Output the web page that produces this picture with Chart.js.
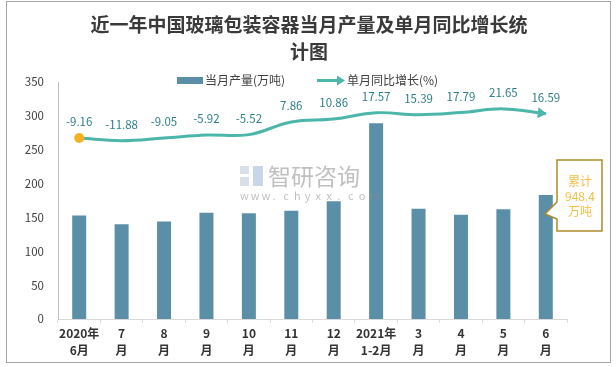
<!DOCTYPE html>
<html>
<head>
<meta charset="utf-8">
<script src="https://cdn.jsdelivr.net/npm/chart.js@4"></script>
<style>
  html, body { margin: 0; padding: 0; background: #fff; }
  #wrap { width: 616px; height: 367px; }
</style>
</head>
<body>
<div id="wrap"><canvas id="chart" width="616" height="367"></canvas></div>
<script>
// Daten
const titleLines = ['近一年中国玻璃包装容器当月产量及单月同比增长统', '计图'];
const months = [['2020年', '6月'], ['7', '月'], ['8', '月'], ['9', '月'], ['10', '月'], ['11', '月'],
  ['12', '月'], ['2021年', '1-2月'], ['3', '月'], ['4', '月'], ['5', '月'], ['6', '月']];
const production = [153, 140, 144, 157, 156, 160, 174, 289, 163, 154, 162, 183];
const growth = [-9.16, -11.88, -9.05, -5.92, -5.52, 7.86, 10.86, 17.57, 15.39, 17.79, 21.65, 16.59];
const seriesNames = ['当月产量(万吨)', '单月同比增长(%)'];
const calloutLines = ['累计', '948.4', '万吨'];
const yTicks = [0, 50, 100, 150, 200, 250, 300, 350];

const BAR_COLOR = '#5B8FA8';
const LINE_COLOR = '#4DB6AB';
const FONT = '"Noto Sans CJK SC", "Microsoft YaHei", sans-serif';

function arrowHead(ctx, x, y, angle, len, half, color) {
  ctx.save();
  ctx.translate(x, y);
  ctx.rotate(angle);
  ctx.fillStyle = color;
  ctx.beginPath();
  ctx.moveTo(0, 0);
  ctx.lineTo(-len, -half);
  ctx.lineTo(-len, half);
  ctx.closePath();
  ctx.fill();
  ctx.restore();
}

// Rahmen, Titel, Legende
const decorPlugin = {
  id: 'decor',
  beforeDraw(chart) {
    const ctx = chart.ctx;
    ctx.save();
    ctx.fillStyle = '#fff';
    ctx.fillRect(0, 0, chart.width, chart.height);
    ctx.strokeStyle = '#A6A6A6';
    ctx.lineWidth = 1;
    ctx.strokeRect(6.5, 1.5, 604, 361);

    ctx.fillStyle = '#3a3a3a';
    ctx.font = 'bold 19px ' + FONT;
    ctx.textAlign = 'center';
    ctx.textBaseline = 'middle';
    ctx.fillText(titleLines[0], 309, 25);
    ctx.fillText(titleLines[1], 309, 52);

    // Legende
    ctx.font = '12px ' + FONT;
    ctx.textAlign = 'left';
    ctx.fillStyle = BAR_COLOR;
    ctx.fillRect(177, 77, 26, 7);
    ctx.fillStyle = '#404040';
    ctx.fillText(seriesNames[0], 205, 80.5);
    ctx.strokeStyle = LINE_COLOR;
    ctx.lineWidth = 3;
    ctx.beginPath();
    ctx.moveTo(317, 80.5);
    ctx.lineTo(338, 80.5);
    ctx.stroke();
    arrowHead(ctx, 345, 80.5, 0, 8, 5, LINE_COLOR);
    ctx.fillStyle = '#404040';
    ctx.fillText(seriesNames[1], 347, 80.5);
    ctx.restore();
  },
  afterDatasetsDraw(chart) {
    const ctx = chart.ctx;
    const meta = chart.getDatasetMeta(1);
    const pts = meta.data;
    ctx.save();
    // Pfeilspitze am Linienende
    const last = pts[pts.length - 1];
    const prev = pts[pts.length - 2];
    const cp = last.cp1x !== undefined ? { x: last.cp1x, y: last.cp1y } : prev;
    const ang = Math.atan2(last.y - cp.y, last.x - cp.x);
    arrowHead(ctx, last.x + 1, last.y, ang, 9, 5.5, LINE_COLOR);

    // Datenbeschriftungen
    ctx.font = '11.5px ' + FONT;
    ctx.fillStyle = '#2F7F88';
    ctx.textAlign = 'center';
    ctx.textBaseline = 'middle';
    pts.forEach((p, i) => {
      ctx.fillText(growth[i].toFixed(2), p.x, p.y - 16);
    });

    // Wasserzeichen
    ctx.globalAlpha = 0.55;
    ctx.fillStyle = '#B8C4D6';
    ctx.fillRect(240, 166, 9, 8);
    ctx.fillRect(240, 177, 9, 9);
    ctx.fillStyle = '#9DB5D8';
    ctx.fillRect(253, 166, 10, 20);
    ctx.fillStyle = '#8c8c8c';
    ctx.font = '23px ' + FONT;
    ctx.textAlign = 'left';
    ctx.fillText('智研咨询', 268, 176);
    ctx.font = '11px ' + FONT;
    let x = 240;
    for (const c of 'www.chyxx.com') {
      ctx.fillText(c, x, 196);
      x += 10.8;
    }
    ctx.restore();

    // Hinweisbox
    ctx.save();
    ctx.fillStyle = '#fff';
    ctx.strokeStyle = '#B08A2A';
    ctx.lineWidth = 1.5;
    ctx.beginPath();
    ctx.moveTo(557, 160);
    ctx.lineTo(602, 160);
    ctx.lineTo(602, 231);
    ctx.lineTo(557, 231);
    ctx.lineTo(557, 219);
    ctx.lineTo(545, 214);
    ctx.lineTo(557, 202);
    ctx.closePath();
    ctx.fill();
    ctx.stroke();
    ctx.fillStyle = '#F3BE45';
    ctx.font = '12px ' + FONT;
    ctx.textAlign = 'center';
    ctx.textBaseline = 'middle';
    calloutLines.forEach((t, i) => ctx.fillText(t, 580, 181 + i * 15));
    ctx.restore();
  }
};

const ctx = document.getElementById('chart').getContext('2d');
new Chart(ctx, {
  type: 'bar',
  data: {
    labels: months,
    datasets: [{
      label: seriesNames[0],
      data: production,
      backgroundColor: BAR_COLOR,
      barPercentage: 0.33,
      categoryPercentage: 1,
      yAxisID: 'y',
      order: 2
    }, {
      type: 'line',
      label: seriesNames[1],
      data: growth,
      borderColor: LINE_COLOR,
      borderWidth: 3,
      tension: 0.4,
      fill: false,
      pointRadius: growth.map((v, i) => i === 0 ? 5 : 0),
      pointBackgroundColor: '#F5B120',
      pointBorderWidth: 0,
      yAxisID: 'y1',
      order: 1
    }]
  },
  options: {
    responsive: false,
    devicePixelRatio: 1,
    animation: false,
    layout: { padding: { left: 0, right: 49, top: 82, bottom: 0 } },
    plugins: {
      legend: { display: false },
      title: { display: false },
      tooltip: { enabled: false }
    },
    scales: {
      x: {
        afterFit(scale) { scale.height = 48; },
        grid: { display: true, drawOnChartArea: false, drawTicks: true, tickLength: 4, color: '#D9D9D9', offset: true },
        border: { display: true, color: '#D9D9D9' },
        ticks: {
          color: '#333',
          font: { family: FONT, size: 12, weight: 'bold', lineHeight: 1.42 },
          padding: 2,
          maxRotation: 0,
          autoSkip: false
        }
      },
      y: {
        min: 0,
        max: 350,
        afterFit(scale) { scale.width = 58; },
        afterBuildTicks(scale) { scale.ticks = yTicks.map(v => ({ value: v })); },
        grid: { display: false, drawTicks: false },
        border: { display: true, color: '#BFBFBF' },
        ticks: {
          color: '#404040',
          font: { family: FONT, size: 11.5 },
          padding: 14
        }
      },
      y1: {
        display: false,
        min: -200,
        max: 50
      }
    }
  },
  plugins: [decorPlugin]
});
</script>
</body>
</html>
